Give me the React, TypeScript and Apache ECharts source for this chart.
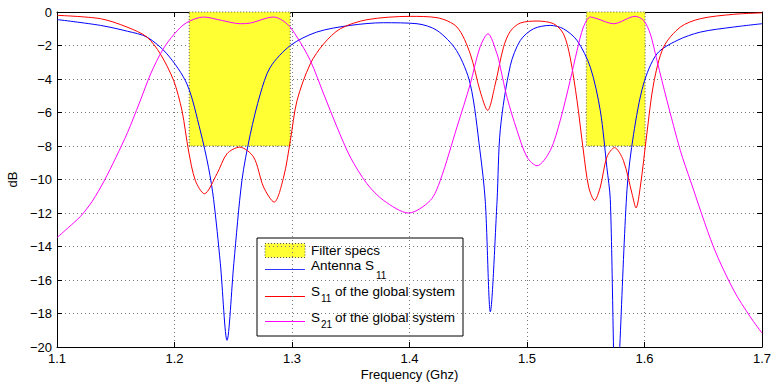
import React, { useEffect, useRef } from "react";
import * as echarts from "echarts";

// ---- data ----
const xTicks = [1.1, 1.2, 1.3, 1.4, 1.5, 1.6, 1.7];
const yTicks = [0, -2, -4, -6, -8, -10, -12, -14, -16, -18, -20];

// filter spec bands: [fStart, fEnd, topDb, bottomDb]
const filterSpecs = [
  [1.2125, 1.2985, 0, -8],
  [1.5505, 1.6005, 0, -8],
];

const antennaFreq = [1.1, 1.137, 1.16, 1.1766, 1.1936, 1.2106, 1.222, 1.229, 1.2333, 1.239, 1.2447, 1.2505, 1.2574, 1.2645, 1.273, 1.2815, 1.2986, 1.321, 1.3496, 1.378, 1.4064, 1.4234, 1.44, 1.4517, 1.46, 1.4645, 1.4688, 1.4745, 1.4773, 1.4858, 1.4943, 1.5056, 1.5198, 1.531, 1.5426, 1.5539, 1.5624, 1.568, 1.5709, 1.5757, 1.5851, 1.5907, 1.5992, 1.6106, 1.6277, 1.6475, 1.6756, 1.7];
const antennaS11 = [-0.45, -0.8, -1.15, -1.5, -2.5, -4.3, -7.1, -9.3, -11.2, -15, -19.6, -15, -10.05, -7.3, -4.9, -3.3, -2.0, -1.2, -0.8, -0.64, -0.7, -1.1, -2.3, -4.3, -8.3, -11.3, -17.9, -11.3, -7.0, -3.2, -1.7, -1.0, -0.8, -1.0, -1.7, -3.3, -5.9, -9.3, -11.2, -23.5, -10.6, -7.3, -4.3, -2.5, -1.7, -1.2, -0.9, -0.7];

const globalFreqS11 = [1.1, 1.137, 1.1596, 1.1766, 1.1879, 1.1993, 1.2064, 1.212, 1.2177, 1.2254, 1.2362, 1.2447, 1.2554, 1.2673, 1.2758, 1.2848, 1.2929, 1.2986, 1.3043, 1.3156, 1.327, 1.3411, 1.3638, 1.4007, 1.4234, 1.4404, 1.4517, 1.46, 1.4665, 1.473, 1.48, 1.4858, 1.4943, 1.5085, 1.5226, 1.531, 1.5367, 1.5426, 1.548, 1.5525, 1.5575, 1.5624, 1.568, 1.5745, 1.582, 1.5894, 1.5928, 1.5964, 1.602, 1.6077, 1.6162, 1.6305, 1.6475, 1.6756, 1.7];
const globalS11 = [-0.2, -0.4, -0.9, -1.5, -2.5, -4.1, -5.9, -8.3, -10.05, -10.85, -9.65, -8.46, -8.07, -8.66, -10.45, -11.35, -9.85, -7.67, -5.28, -3.09, -1.9, -1.0, -0.46, -0.26, -0.34, -0.9, -2.5, -4.7, -5.87, -4.3, -2.1, -1.15, -0.66, -0.54, -0.7, -1.3, -2.7, -5.3, -8.3, -10.45, -11.25, -10.45, -8.66, -8.1, -8.86, -10.85, -11.7, -10.45, -7.27, -4.3, -2.1, -0.9, -0.4, -0.14, -0.05];

const globalFreqS21 = [1.1, 1.11, 1.12, 1.13, 1.14, 1.15, 1.16, 1.17, 1.18, 1.19, 1.2, 1.21, 1.2248, 1.24, 1.256, 1.2645, 1.2843, 1.2957, 1.3043, 1.3156, 1.327, 1.3383, 1.3496, 1.3638, 1.378, 1.3993, 1.4177, 1.4262, 1.4404, 1.4517, 1.46, 1.4668, 1.4745, 1.4773, 1.483, 1.4915, 1.5, 1.5085, 1.5198, 1.5283, 1.5367, 1.5426, 1.548, 1.5539, 1.5596, 1.5737, 1.592, 1.5992, 1.6049, 1.6106, 1.6191, 1.6305, 1.639, 1.6588, 1.6758, 1.69, 1.7];
const globalS21 = [-13.47, -12.85, -12.2, -11.3, -10.1, -8.7, -7.2, -5.45, -3.65, -2.25, -1.3, -0.65, -0.3, -0.5, -0.7, -0.66, -0.3, -0.7, -1.5, -2.9, -4.9, -6.87, -8.66, -10.25, -11.25, -12.0, -11.25, -10.05, -6.87, -4.3, -2.1, -1.3, -2.5, -3.3, -5.1, -7.07, -8.66, -9.18, -8.27, -6.47, -4.1, -2.3, -0.9, -0.3, -0.4, -0.7, -0.26, -0.5, -1.3, -2.9, -5.28, -8.27, -10.05, -14.04, -16.6, -18.2, -19.17];

const zip = (xs: number[], ys: number[]) => xs.map((x, i) => [x, ys[i]]);

const FONT = "Liberation Sans";
const minus = (s: string) => s.replace("-", "\u2212");

export default function App() {
  const ref = useRef<HTMLDivElement>(null);
  useEffect(() => {
    if (!ref.current) return;
    const chart = echarts.init(ref.current, null, { renderer: "svg" });
    const axisCommon = {
      type: "value" as const,
      axisLine: { show: true, onZero: false, lineStyle: { color: "#000", width: 1 } },
      axisTick: { show: true, inside: true, length: 5, lineStyle: { color: "#000" } },
    };
    const lx0 = 265, lx1 = 305;
    const txtStyle = (text: string, size = 13.5) => ({ text, fill: "#000", font: `${size}px "${FONT}"` });
    chart.setOption({
      animation: false,
      backgroundColor: "#fff",
      grid: { left: 57, right: 10, top: 12, bottom: 35, containLabel: false, outerBoundsMode: "none" },
      xAxis: [
        {
          ...axisCommon,
          min: xTicks[0],
          max: xTicks[xTicks.length - 1],
          interval: 0.1,
          position: "bottom",
          axisLabel: { color: "#000", fontFamily: FONT, fontSize: 13, margin: 5, formatter: (v: number) => v.toFixed(1) },
          splitLine: { show: true, lineStyle: { color: "#777", type: [1, 3], width: 1 } },
        },
        {
          ...axisCommon,
          min: xTicks[0],
          max: xTicks[xTicks.length - 1],
          interval: 0.1,
          position: "top",
          axisLabel: { show: false },
          splitLine: { show: false },
        },
      ],
      yAxis: [
        {
          ...axisCommon,
          min: yTicks[yTicks.length - 1],
          max: yTicks[0],
          interval: 2,
          position: "left",
          name: "dB",
          nameLocation: "middle",
          nameGap: 33,
          nameTextStyle: { color: "#000", fontFamily: FONT, fontSize: 13 },
          axisLabel: { color: "#000", fontFamily: FONT, fontSize: 13, margin: 5, formatter: (v: number) => minus(String(v)) },
          splitLine: { show: true, lineStyle: { color: "#777", type: [1, 3], width: 1 } },
        },
        {
          ...axisCommon,
          min: yTicks[yTicks.length - 1],
          max: yTicks[0],
          interval: 2,
          position: "right",
          axisLabel: { show: false },
          splitLine: { show: false },
        },
      ],
      series: [
        {
          type: "custom",
          name: "Filter specs",
          data: filterSpecs,
          z: 1,
          renderItem: (params: any, api: any) => {
            const p0 = api.coord([api.value(0), api.value(2)]);
            const p1 = api.coord([api.value(1), api.value(3)]);
            return {
              type: "rect",
              shape: { x: p0[0], y: p0[1], width: p1[0] - p0[0], height: p1[1] - p0[1] },
              style: { fill: "#ffff33", stroke: "#555", lineWidth: 1, lineDash: [1, 2] },
            };
          },
        },
        {
          type: "line",
          name: "Antenna S11",
          data: zip(antennaFreq, antennaS11),
          showSymbol: false,
          smooth: 0.3,
          clip: true,
          z: 3,
          lineStyle: { color: "#0000ff", width: 1 },
        },
        {
          type: "line",
          name: "S11 of the global system",
          data: zip(globalFreqS11, globalS11),
          showSymbol: false,
          smooth: 0.3,
          clip: true,
          z: 3,
          lineStyle: { color: "#ff0000", width: 1 },
        },
        {
          type: "line",
          name: "S21 of the global system",
          data: zip(globalFreqS21, globalS21),
          showSymbol: false,
          smooth: 0.3,
          clip: true,
          z: 3,
          lineStyle: { color: "#ff00ff", width: 1 },
        },
      ],
      graphic: [
        {
          type: "text",
          x: 409.5,
          y: 374.5,
          style: { text: "Frequency (Ghz)", fill: "#000", font: `13px "${FONT}"`, align: "center", verticalAlign: "middle" },
        },
        {
          type: "group",
          z: 100,
          children: [
            { type: "rect", shape: { x: 257, y: 238, width: 206, height: 98 }, style: { fill: "#fff", stroke: "#000", lineWidth: 1 } },
            { type: "rect", shape: { x: lx0, y: 243.5, width: lx1 - lx0, height: 14 }, style: { fill: "#ffff33", stroke: "#555", lineWidth: 1, lineDash: [1, 2] } },
            { type: "text", x: 311, y: 250, style: { ...txtStyle("Filter specs"), verticalAlign: "middle" } },
            { type: "line", shape: { x1: lx0, y1: 269.5, x2: lx1, y2: 269.5 }, style: { stroke: "#3333ff", lineWidth: 1 } },
            { type: "text", x: 311, y: 265, style: { ...txtStyle("Antenna S"), verticalAlign: "middle" } },
            { type: "text", x: 376, y: 275, style: { ...txtStyle("11", 10), verticalAlign: "middle" } },
            { type: "line", shape: { x1: lx0, y1: 296.5, x2: lx1, y2: 296.5 }, style: { stroke: "#ff0000", lineWidth: 1 } },
            { type: "text", x: 311, y: 291, style: { ...txtStyle("S"), verticalAlign: "middle" } },
            { type: "text", x: 321, y: 298, style: { ...txtStyle("11", 10), verticalAlign: "middle" } },
            { type: "text", x: 335, y: 291, style: { ...txtStyle("of the global system"), verticalAlign: "middle" } },
            { type: "line", shape: { x1: lx0, y1: 321.5, x2: lx1, y2: 321.5 }, style: { stroke: "#ff00ff", lineWidth: 1 } },
            { type: "text", x: 311, y: 317, style: { ...txtStyle("S"), verticalAlign: "middle" } },
            { type: "text", x: 321, y: 324, style: { ...txtStyle("21", 10), verticalAlign: "middle" } },
            { type: "text", x: 335, y: 317, style: { ...txtStyle("of the global system"), verticalAlign: "middle" } },
          ],
        },
      ],
    });
    return () => chart.dispose();
  }, []);
  return <div ref={ref} style={{ position: "fixed", left: 0, top: 0, width: 772, height: 382, background: "#fff" }} />;
}
